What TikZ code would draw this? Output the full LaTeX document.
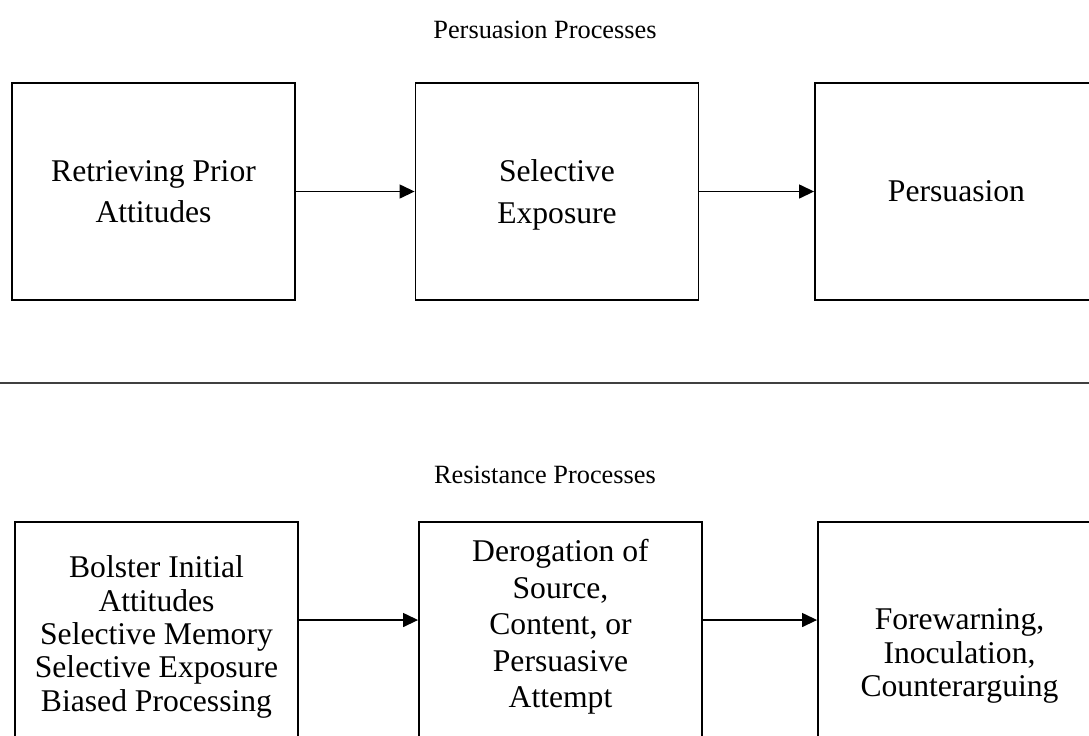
\documentclass[tikz,border=0pt]{standalone}
\usepackage{fontspec}
\setmainfont{Liberation Serif}
\usetikzlibrary{arrows.meta,positioning}

\begin{document}
\begin{tikzpicture}[
    x=0.02cm, y=-0.02cm,
    stage/.style={draw, line width=1.1pt, minimum width=5.66cm, minimum height=4.34cm, inner sep=0pt, align=center, font=\fontsize{18}{23.5}\selectfont},
    lowstage/.style={stage, minimum height=4.6cm},
    stagetext/.style={align=center, inner sep=0pt, font=\fontsize{18}{#1}\selectfont},
    heading/.style={font=\fontsize{15}{18}\selectfont},
    flow/.style={-{Triangle[length=0.3cm,width=0.28cm]}, line width=0.8pt},
]
\useasboundingbox (0,0) rectangle (1089,735);

% persuasion
\node[heading] (ptitle) at (545,30) {Persuasion Processes};
\node[stage] (retrieve) at (153.5,191.5) {Retrieving Prior\\Attitudes};
\node[stage, text depth=0pt] (selexp) at (557,191.5) {Selective\\Exposure};
\node[stage] (persuade) at (956.5,191.5) {Persuasion};

\draw[flow] (retrieve) -- (selexp);
\draw[flow] (selexp) -- (persuade);

\draw[line width=0.6pt, black!75] (0,383) -- (1089,383);

% resistance
\node[heading] (rtitle) at (545,475) {Resistance Processes};
\node[lowstage] (bolster)  at (156.5,637) {};
\node[lowstage] (derogate) at (560.5,637) {};
\node[lowstage] (forewarn) at (959.5,637) {};

\node[stagetext=19] (bolstertext) at (bolster.center) {Bolster Initial\\Attitudes\\Selective Memory\\Selective Exposure\\Biased Processing};
\node[stagetext=20.8, yshift=0.2cm] (derogatetext) at (derogate.center) {Derogation of\\Source,\\Content, or\\Persuasive\\Attempt};
\node[stagetext=19, yshift=-0.38cm] (forewarntext) at (forewarn.center) {Forewarning,\\Inoculation,\\Counterarguing};

\draw[flow] ([yshift=0.34cm]bolster.east) -- ([yshift=0.34cm]derogate.west);
\draw[flow] ([yshift=0.34cm]derogate.east) -- ([yshift=0.34cm]forewarn.west);
\end{tikzpicture}
\end{document}
